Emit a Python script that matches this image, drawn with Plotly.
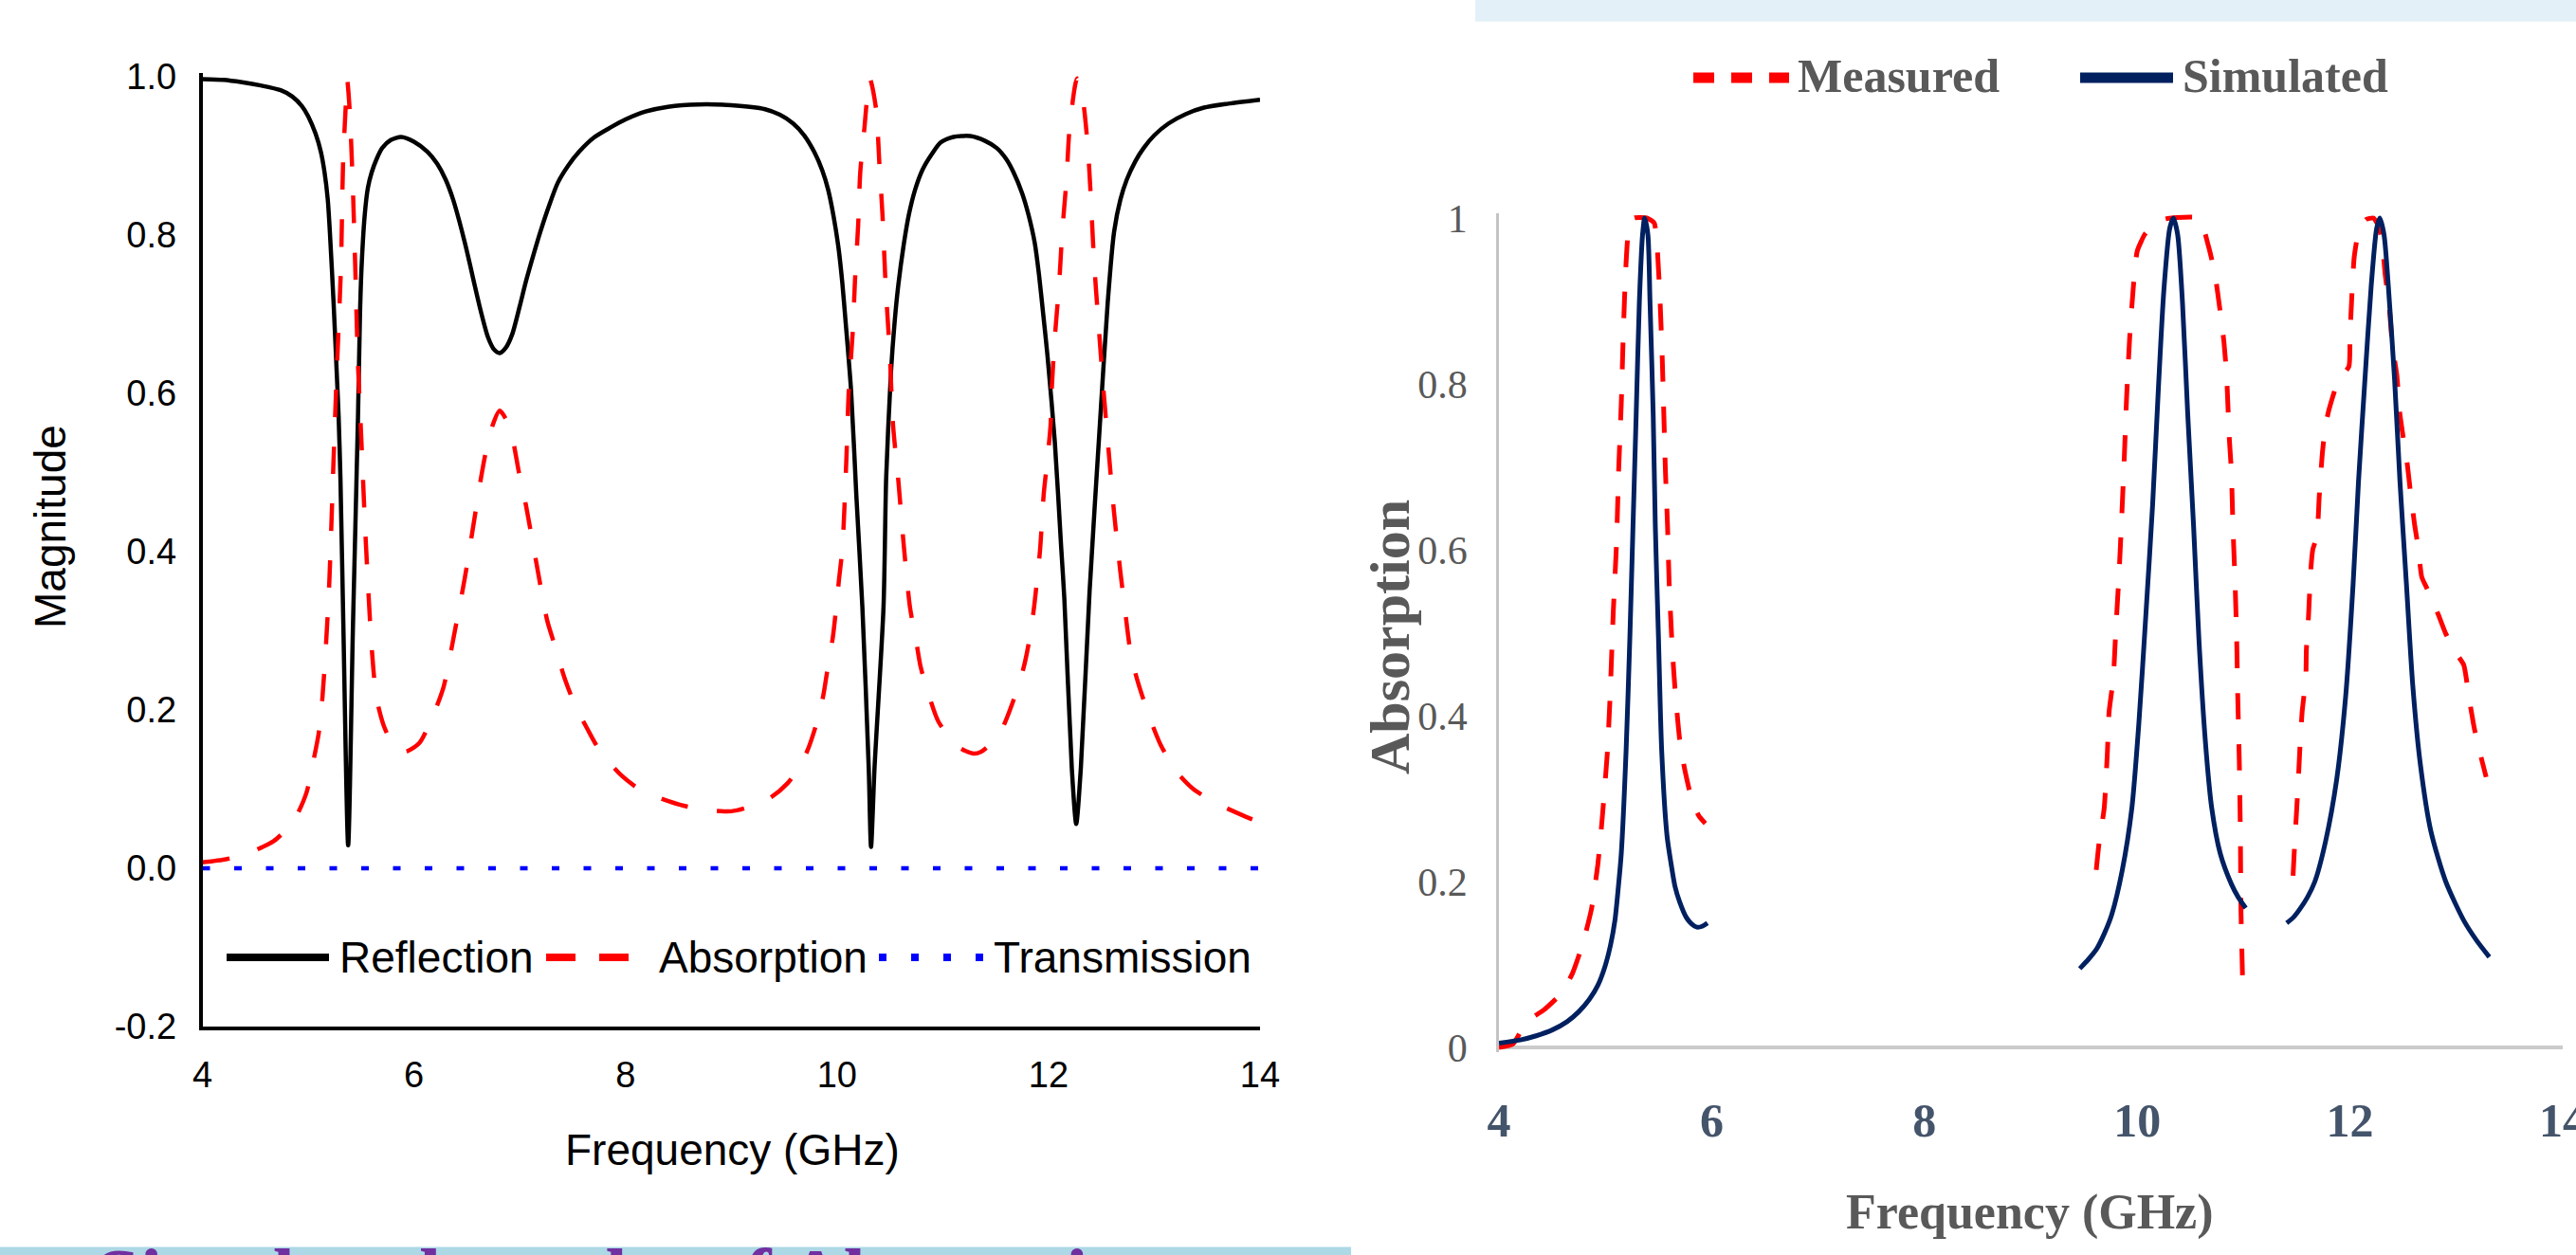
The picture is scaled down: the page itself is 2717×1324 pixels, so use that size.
import plotly.graph_objects as go

W, H = 2717, 1324

# ---------------- Left panel data (simulated R / A / T) ----------------
refl_f = [4.00, 4.20, 4.375, 4.55, 4.74, 4.85, 4.94, 5.00, 5.07, 5.12, 5.155, 5.185, 5.205, 5.24, 5.27,
          5.288, 5.305, 5.333, 5.378, 5.423, 5.471, 5.49, 5.505, 5.535, 5.565, 5.60, 5.65, 5.70, 5.78,
          5.88, 6.00, 6.13, 6.22, 6.30, 6.37, 6.43, 6.50, 6.565, 6.63, 6.70, 6.76, 6.81, 6.87, 6.93,
          7.00, 7.06, 7.13, 7.195, 7.28, 7.36, 7.46, 7.56, 7.70, 7.86, 8.00, 8.19, 8.40, 8.69, 9.00,
          9.32, 9.46, 9.585, 9.69, 9.785, 9.86, 9.917, 9.97, 10.017, 10.05, 10.08, 10.133, 10.183,
          10.24, 10.30, 10.322, 10.355, 10.44, 10.465, 10.51, 10.545, 10.58, 10.63, 10.68, 10.74,
          10.81, 10.90, 10.98, 11.10, 11.26, 11.40, 11.51, 11.60, 11.67, 11.75, 11.81, 11.87, 11.91,
          11.95, 11.99, 12.06, 12.12, 12.15, 12.22, 12.262, 12.306, 12.388, 12.49, 12.56, 12.62,
          12.68, 12.74, 12.82, 12.90, 13.00, 13.135, 13.30, 13.47, 13.70, 14.00]
refl_v = [0.997, 0.996, 0.993, 0.989, 0.983, 0.975, 0.963, 0.950, 0.928, 0.905, 0.879, 0.845, 0.804, 0.715, 0.626,
          0.570, 0.493, 0.304, 0.029, 0.304, 0.570, 0.700, 0.760, 0.826, 0.860, 0.879, 0.897, 0.910, 0.920,
          0.924, 0.918, 0.905, 0.890, 0.870, 0.845, 0.817, 0.780, 0.742, 0.705, 0.671, 0.655, 0.651, 0.658, 0.675,
          0.710, 0.742, 0.775, 0.804, 0.838, 0.866, 0.888, 0.905, 0.923, 0.936, 0.946, 0.956, 0.962, 0.965, 0.964,
          0.959, 0.952, 0.941, 0.926, 0.905, 0.882, 0.857, 0.822, 0.781, 0.740, 0.693, 0.604, 0.471,
          0.330, 0.127, 0.027, 0.127, 0.330, 0.493, 0.626, 0.690, 0.737, 0.787, 0.826, 0.858,
          0.883, 0.903, 0.917, 0.924, 0.925, 0.919, 0.910, 0.896, 0.879, 0.853, 0.826, 0.790, 0.750,
          0.700, 0.648, 0.538, 0.405, 0.340, 0.127, 0.056, 0.127, 0.349, 0.570, 0.715, 0.804,
          0.845, 0.870, 0.893, 0.910, 0.926, 0.941, 0.953, 0.961, 0.966, 0.971]

abs_f = [4.00, 4.10, 4.21, 4.35, 4.47, 4.57, 4.67, 4.78, 4.885, 4.985, 5.05, 5.10, 5.135, 5.17, 5.20, 5.24,
         5.27, 5.31, 5.33, 5.355, 5.368, 5.39, 5.42, 5.445, 5.47, 5.50, 5.535, 5.565, 5.60, 5.645, 5.715,
         5.80, 5.91, 6.05, 6.18, 6.28, 6.38, 6.48, 6.545, 6.63, 6.68, 6.745, 6.81, 6.88, 6.94, 6.99,
         7.06, 7.16, 7.26, 7.34, 7.42, 7.52, 7.64, 7.755, 7.955, 8.155, 8.52, 8.80, 9.00,
         9.135, 9.37, 9.53, 9.63, 9.715, 9.80, 9.87, 9.91, 9.96, 9.99, 10.02, 10.05, 10.066, 10.09,
         10.11, 10.15, 10.17, 10.20, 10.22, 10.26, 10.31, 10.37, 10.40, 10.43, 10.46, 10.50,
         10.53, 10.58, 10.63, 10.69, 10.75, 10.79, 10.875, 10.96, 11.14, 11.29, 11.36, 11.46, 11.56,
         11.66, 11.76, 11.81, 11.86, 11.89, 11.92, 11.955, 11.99, 12.02, 12.03, 12.06, 12.10,
         12.13, 12.17, 12.20, 12.27, 12.32, 12.37, 12.40, 12.43, 12.47, 12.52, 12.57, 12.62,
         12.68, 12.72, 12.78, 12.85, 12.96, 13.06, 13.21, 13.37, 13.62, 13.85, 14.00]
abs_v = [0.0075, 0.009, 0.011, 0.015, 0.021, 0.027, 0.034, 0.047, 0.065, 0.096, 0.136, 0.171, 0.216, 0.286, 0.362, 0.516,
         0.626, 0.760, 0.892, 0.963, 0.997, 0.963, 0.870, 0.760, 0.640, 0.550, 0.440, 0.360, 0.280, 0.216, 0.180,
         0.157, 0.147, 0.158, 0.193, 0.229, 0.295, 0.366, 0.419, 0.490, 0.526, 0.560, 0.578, 0.565, 0.538, 0.502,
         0.458, 0.384, 0.313, 0.278, 0.242, 0.207, 0.176, 0.149, 0.118, 0.098, 0.080, 0.073, 0.072,
         0.076, 0.089, 0.107, 0.125, 0.147, 0.180, 0.218, 0.251, 0.291, 0.326, 0.366, 0.402, 0.442, 0.521,
         0.600, 0.680, 0.742, 0.812, 0.879, 0.936, 0.998, 0.959, 0.892, 0.826, 0.737, 0.648,
         0.560, 0.490, 0.410, 0.330, 0.286, 0.255, 0.216, 0.185, 0.154, 0.145, 0.147, 0.158, 0.176,
         0.209, 0.251, 0.282, 0.326, 0.362, 0.402, 0.473, 0.517, 0.561, 0.604, 0.671, 0.737,
         0.804, 0.870, 0.936, 0.998, 0.976, 0.914, 0.848, 0.768, 0.693, 0.604, 0.525, 0.449,
         0.374, 0.330, 0.269, 0.233, 0.189, 0.156, 0.122, 0.100, 0.080, 0.066, 0.058]

trans_f = [4.0, 14.0]
trans_v = [0.0, 0.0]

left_xticks = [4, 6, 8, 10, 12, 14]
left_yticks = [-0.2, 0.0, 0.2, 0.4, 0.6, 0.8, 1.0]
left_yticktext = ["-0.2", "0.0", "0.2", "0.4", "0.6", "0.8", "1.0"]

# ---------------- Right panel data (measured vs simulated absorption) ----------------
meas_f = [4.00, 4.13, 4.26, 4.42, 4.585, 4.69, 4.79, 4.87, 4.93, 4.97, 5.02, 5.045, 5.075, 5.105,
          5.125, 5.15, 5.17, 5.19, 5.22, 5.27, 5.39, 5.46, 5.49, 5.515, 5.535, 5.55, 5.565, 5.585,
          5.60, 5.63, 5.66, 5.70, 5.745, 5.82, 5.88, 5.94, None,
          9.615, 9.64, 9.69, 9.72, 9.735, 9.775, 9.80, 9.83, 9.855, 9.88, 9.90, 9.93, 9.965, 10.0,
          10.07, 10.17, 10.27, 10.58, 10.67, 10.73, 10.775, 10.815, 10.84, 10.865, 10.885, 10.90,
          10.92, 10.935, 10.945, 10.96, 10.97, 10.975, 10.99, None,
          11.465, 11.48, 11.50, 11.515, 11.53, 11.55, 11.585, 11.59, 11.61, 11.63, 11.65, 11.69,
          11.71, 11.74, 11.77, 11.805, 11.89, 11.99, 12.0, 12.02, 12.04, 12.08, 12.15, 12.22,
          12.27, 12.30, 12.33, 12.37, 12.40, 12.44, 12.47, 12.50, 12.54, 12.57, 12.61, 12.64,
          12.675, 12.725, 12.83, 12.90, 13.0, 13.07, 13.12, 13.17, 13.24, 13.28]
meas_v = [0.0, 0.004, 0.031, 0.045, 0.065, 0.089, 0.126, 0.167, 0.221, 0.275, 0.357, 0.424, 0.526, 0.607,
          0.695, 0.777, 0.865, 0.933, 0.987, 1.0, 1.0, 0.994, 0.96, 0.899, 0.831, 0.763, 0.695, 0.628,
          0.56, 0.479, 0.424, 0.37, 0.336, 0.295, 0.279, 0.27, None,
          0.214, 0.245, 0.289, 0.357, 0.404, 0.445, 0.506, 0.573, 0.641, 0.716, 0.783, 0.858, 0.919, 0.96,
          0.98, 0.994, 0.999, 1.0, 0.966, 0.933, 0.892, 0.851, 0.811, 0.736, 0.695, 0.628,
          0.56, 0.492, 0.424, 0.343, 0.255, 0.167, 0.085, None,
          0.207, 0.245, 0.289, 0.323, 0.363, 0.404, 0.445, 0.479, 0.519, 0.573, 0.60, 0.617,
          0.662, 0.716, 0.75, 0.77, 0.804, 0.821, 0.858, 0.912, 0.953, 0.983, 0.998, 1.0,
          0.99, 0.973, 0.933, 0.892, 0.845, 0.811, 0.763, 0.736, 0.702, 0.668, 0.628, 0.604,
          0.567, 0.553, 0.522, 0.499, 0.475, 0.461, 0.421, 0.384, 0.346, 0.326]

sim_f = [4.00, 4.20, 4.35, 4.50, 4.64, 4.75, 4.85, 4.93, 5.00, 5.05, 5.09, 5.12, 5.15, 5.195, 5.23, 5.26,
         5.29, 5.32, 5.35, 5.37, 5.40, 5.42, 5.45, 5.47, 5.50, 5.53, 5.58, 5.62, 5.655, 5.70, 5.76,
         5.81, 5.86, 5.91, 5.96, None,
         9.46, 9.54, 9.62, 9.69, 9.76, 9.86, 9.95, 10.015, 10.08, 10.145, 10.20, 10.25, 10.305, 10.34,
         10.38, 10.425, 10.475, 10.53, 10.58, 10.64, 10.70, 10.78, 10.885, 10.95, 11.02, None,
         11.405, 11.47, 11.53, 11.60, 11.67, 11.77, 11.875, 11.96, 12.03, 12.08, 12.14, 12.20, 12.25,
         12.28, 12.32, 12.36, 12.42, 12.47, 12.53, 12.59, 12.66, 12.76, 12.90, 13.07, 13.19, 13.31]
sim_v = [0.005, 0.009, 0.014, 0.021, 0.031, 0.043, 0.058, 0.075, 0.099, 0.124, 0.153, 0.19, 0.234, 0.357, 0.492, 0.628,
         0.763, 0.899, 0.98, 1.0, 0.98, 0.899, 0.763, 0.628, 0.492, 0.357, 0.255, 0.22, 0.194, 0.175, 0.157,
         0.149, 0.145, 0.146, 0.15, None,
         0.095, 0.106, 0.119, 0.137, 0.16, 0.214, 0.289, 0.39, 0.519, 0.655, 0.797, 0.912, 0.987, 1.0,
         0.98, 0.899, 0.763, 0.628, 0.492, 0.37, 0.289, 0.234, 0.197, 0.181, 0.168, None,
         0.15, 0.157, 0.167, 0.181, 0.20, 0.248, 0.323, 0.424, 0.56, 0.682, 0.804, 0.919, 0.987,
         1.0, 0.98, 0.919, 0.804, 0.682, 0.56, 0.437, 0.343, 0.261, 0.20, 0.153, 0.129, 0.109]

right_xticks = [4, 6, 8, 10, 12, 14]
right_yticks = [0, 0.2, 0.4, 0.6, 0.8, 1.0]
right_yticktext = ["0", "0.2", "0.4", "0.6", "0.8", "1"]


def px(x):
    return x / W


def py(y):
    return 1 - y / H


SANS = "Liberation Sans, Arial, sans-serif"
SERIF = "Liberation Serif, Times New Roman, serif"
GRAY = "#595959"

fig = go.Figure()
fig.add_trace(go.Scatter(x=refl_f, y=refl_v, mode="lines", name="Reflection",
                         line=dict(color="black", width=4.5, shape="spline", smoothing=0.7),
                         xaxis="x", yaxis="y"))
fig.add_trace(go.Scatter(x=abs_f, y=abs_v, mode="lines", name="Absorption",
                         line=dict(color="#FF0000", width=4.5, dash="29px,31px", shape="spline", smoothing=0.7),
                         xaxis="x", yaxis="y"))
fig.add_trace(go.Scatter(x=trans_f, y=trans_v, mode="lines", name="Transmission",
                         line=dict(color="#0000FF", width=4.5, dash="8px,25.5px"), xaxis="x", yaxis="y"))
fig.add_trace(go.Scatter(x=meas_f, y=meas_v, mode="lines", name="Measured", connectgaps=False,
                         line=dict(color="#FF0000", width=5, dash="28px,26px", shape="spline", smoothing=0.5),
                         xaxis="x2", yaxis="y2"))
fig.add_trace(go.Scatter(x=sim_f, y=sim_v, mode="lines", name="Simulated", connectgaps=False,
                         line=dict(color="#002060", width=5, shape="spline", smoothing=0.7),
                         xaxis="x2", yaxis="y2"))

shapes = [
    # top light band (right)
    dict(type="rect", xref="paper", yref="paper", x0=px(1556), x1=1.0, y0=py(22.7), y1=1.0,
         fillcolor="#E3F0F7", line=dict(width=0), layer="below"),
    # bottom light band (left)
    dict(type="rect", xref="paper", yref="paper", x0=0.0, x1=px(1425), y0=0.0, y1=py(1315.5),
         fillcolor="#ADD8E6", line=dict(width=0), layer="below"),
    # left legend symbols
    dict(type="line", xref="paper", yref="paper", x0=px(239), x1=px(347), y0=py(1010), y1=py(1010),
         line=dict(color="black", width=8)),
    dict(type="line", xref="paper", yref="paper", x0=px(576), x1=px(687), y0=py(1010), y1=py(1010),
         line=dict(color="#FF0000", width=8, dash="31px,25px")),
    dict(type="line", xref="paper", yref="paper", x0=px(927), x1=px(1040), y0=py(1010), y1=py(1010),
         line=dict(color="#0000FF", width=8, dash="8px,26px")),
    # right legend symbols
    dict(type="line", xref="paper", yref="paper", x0=px(1786), x1=px(1887), y0=py(82), y1=py(82),
         line=dict(color="#FF0000", width=11, dash="22px,18px")),
    dict(type="line", xref="paper", yref="paper", x0=px(2194), x1=px(2292), y0=py(82), y1=py(82),
         line=dict(color="#002060", width=11)),
]

annotations = [
    dict(text="Magnitude", x=px(53), y=py(556), textangle=-90, font=dict(family=SANS, size=46, color="black")),
    dict(text="Frequency (GHz)", x=px(772), y=py(1213), font=dict(family=SANS, size=46, color="black")),
    dict(text="Reflection", x=px(357), y=py(1010), xanchor="left", font=dict(family=SANS, size=46, color="black")),
    dict(text="Absorption", x=px(694), y=py(1010), xanchor="left", font=dict(family=SANS, size=46, color="black")),
    dict(text="Transmission", x=px(1047), y=py(1010), xanchor="left", font=dict(family=SANS, size=46, color="black")),
    dict(text="<b>Measured</b>", x=px(1895), y=py(80), xanchor="left", font=dict(family=SERIF, size=50, color=GRAY)),
    dict(text="<b>Simulated</b>", x=px(2301), y=py(80), xanchor="left", font=dict(family=SERIF, size=50, color=GRAY)),
    dict(text="<b>Absorption</b>", x=px(1466), y=py(672), textangle=-90, font=dict(family=SERIF, size=60, color=GRAY)),
    dict(text="<b>Frequency (GHz)</b>", x=px(2141), y=py(1279), font=dict(family=SERIF, size=52, color=GRAY)),
    dict(text="<b>Simulated results of Absorption</b>", x=px(100), y=py(1300), xanchor="left", yanchor="top",
         font=dict(family=SERIF, size=84, color="#7030A0")),
]
for a in annotations:
    a.setdefault("xref", "paper")
    a.setdefault("yref", "paper")
    a.setdefault("showarrow", False)
    a.setdefault("xanchor", "center")
    a.setdefault("yanchor", "middle")
    a["borderpad"] = 0

fig.update_layout(
    width=W, height=H, autosize=False,
    margin=dict(l=0, r=0, t=0, b=0, pad=0, autoexpand=False),
    paper_bgcolor="white", plot_bgcolor="white",
    showlegend=False,
    shapes=shapes, annotations=annotations,
    xaxis=dict(domain=[px(213.5), px(1329)], range=[4, 14], anchor="y",
               tickvals=left_xticks, showline=True, linecolor="black", linewidth=4,
               showgrid=False, zeroline=False, ticks="", ticklabelstandoff=14, automargin=False,
               tickfont=dict(family=SANS, size=38, color="black")),
    yaxis=dict(domain=[py(1083), py(76.8)], range=[-0.2, 1.005], anchor="x",
               tickvals=left_yticks, ticktext=left_yticktext, showline=True, linecolor="black",
               linewidth=3.5, showgrid=False, zeroline=False, ticks="", ticklabelstandoff=16, automargin=False,
               tickfont=dict(family=SANS, size=38, color="black")),
    xaxis2=dict(domain=[px(1581), px(2703)], range=[4, 14], anchor="y2",
                tickvals=right_xticks, showline=False, showgrid=False, zeroline=False, ticks="",
                ticklabelstandoff=38, automargin=False, ticklabeloverflow="allow",
                tickfont=dict(family=SERIF, size=50, color="#44546A", weight="bold")),
    yaxis2=dict(domain=[py(1110.25), py(224.75)], range=[-0.006, 1.006], anchor="x2",
                tickvals=right_yticks, ticktext=right_yticktext, showline=True, linecolor="#C4C4C4",
                linewidth=2.5, showgrid=False, zeroline=True, zerolinecolor="#CBCBCB", zerolinewidth=4,
                ticks="", ticklabelstandoff=22, automargin=False,
                tickfont=dict(family=SERIF, size=42, color=GRAY)),
)

fig.write_html("out.html", config={"displayModeBar": False},
               post_script="document.body.style.margin='0';document.body.style.overflow='hidden';")
